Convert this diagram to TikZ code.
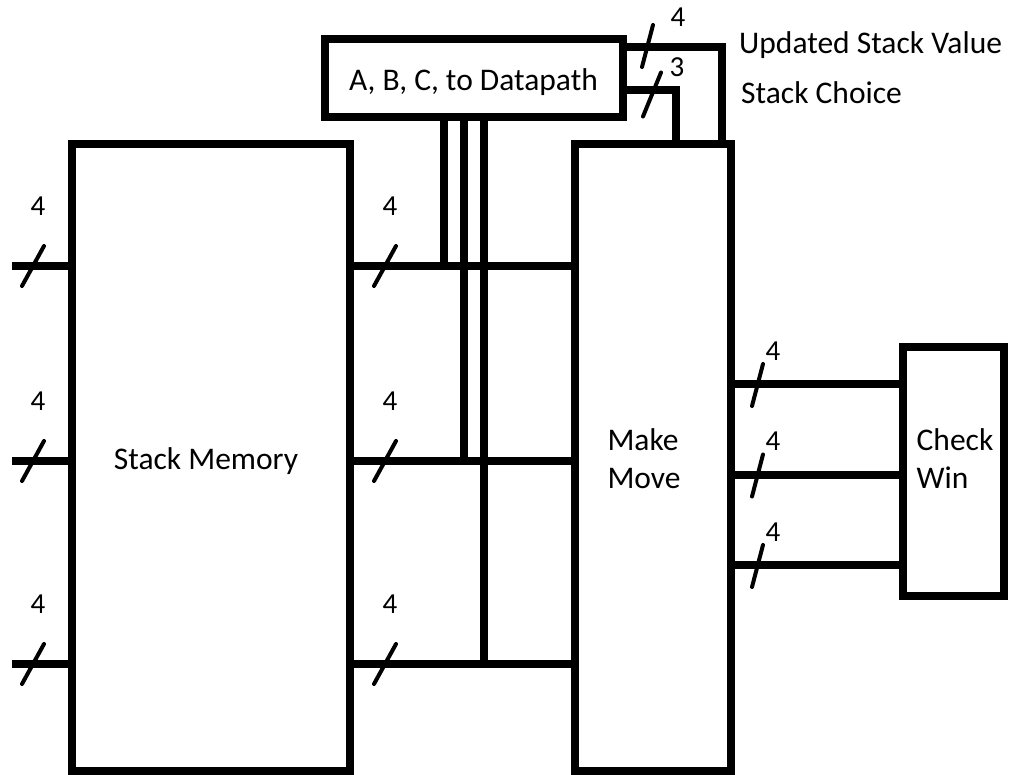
\documentclass[tikz,border=0pt]{standalone}
\usepackage{fontspec}
\setmainfont{Carlito}
\usetikzlibrary{positioning,calc}
\tikzset{
  blk/.style={rectangle,draw,line width=8pt,outer sep=0pt,inner sep=0pt},
  txt/.style={align=left,inner sep=0pt,font=\fontsize{31.5}{38}\selectfont},
  bus/.style={line width=8pt},
  slash/.style={line width=4pt,line cap=round},
  num/.style={font=\fontsize{29}{32}\selectfont,inner sep=0pt},
  tag/.style={font=\fontsize{31.5}{34}\selectfont,inner sep=0pt,anchor=west}
}

\begin{document}
\begin{tikzpicture}[x=1pt,y=-1pt]
  \useasboundingbox (0,0) rectangle (1012,775);
  % blocks
  \node[blk,minimum width=278pt,minimum height=627pt,
    label={[txt,xshift=-5pt,yshift=-3.5pt]center:Stack Memory}] (mem) at (211,457.5) {};
  \node[blk,minimum width=156pt,minimum height=627pt,
    label={[txt,xshift=-9pt,yshift=-1.5pt]center:Make\\Move}] (move) at (653,457.5) {};
  \node[blk,minimum width=298pt,minimum height=78pt,
    label={[txt,yshift=-4pt]center:A, B, C, to Datapath}] (abc) at (473.5,78) {};
  \node[blk,minimum width=101pt,minimum height=249pt,
    label={[txt,xshift=2pt,yshift=12.5pt]center:Check\\Win}] (win) at (953,471.5) {};
  % rows and taps
  \coordinate (r1) at (12,266);
  \coordinate (r2) at (12,461);
  \coordinate (r3) at (12,664);
  \coordinate (t1) at (444,0);
  \coordinate (t2) at (464,0);
  \coordinate (t3) at (484,0);
  \coordinate (w1) at (0,384);
  \coordinate (w2) at (0,474.5);
  \coordinate (w3) at (0,565);
  \coordinate (uv) at (722,47.5);
  \coordinate (sc) at (676,90);
  % buses
  \foreach \r in {r1,r2,r3} {
    \draw[bus] (\r) -- (\r -| mem.west);
    \draw[bus] (mem.east |- \r) -- (move.west |- \r);
  }
  \draw[bus] (abc.south -| t1) -- (t1 |- r1);
  \draw[bus] (abc.south -| t2) -- (t2 |- r2);
  \draw[bus] (abc.south -| t3) -- (t3 |- r3);
  \foreach \w in {w1,w2,w3}
    \draw[bus] (move.east |- \w) -- (win.west |- \w);
  \draw[bus] (abc.east |- uv) -| (move.north -| uv);
  \draw[bus] (abc.east |- sc) -| (move.north -| sc);
  % width marks
  \foreach \x in {33,385}
    \foreach \y in {266,461,664} {
      \draw[slash] (\x,\y) ++(-11,20) -- ++(22,-40);
      \node[num] (n\x-\y) at (\x+5,\y-60) {4};
    }
  \foreach \y in {384,474.5,565} {
    \draw[slash] (757.5,\y) ++(-5.5,22) -- ++(11,-42);
    \node[num] (m\y) at (773,\y-33) {4};
  }
  \draw[slash] (647.5,46) ++(-5.5,21) -- ++(11,-42);
  \node[num] (nuv) at (678,17) {4};
  \draw[slash] (652,94.5) ++(-9,22) -- ++(18,-44);
  \node[num] (nsc) at (677,67) {3};
  % signal names
  \node[tag] (luv) at (739,45) {Updated Stack Value};
  \node[tag] (lsc) at (741,93) {Stack Choice};
\end{tikzpicture}
\end{document}
